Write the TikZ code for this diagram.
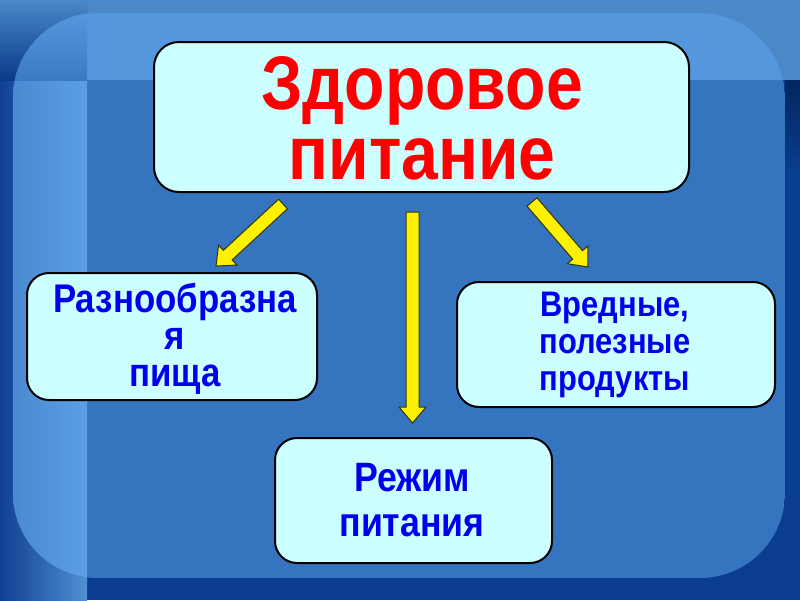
\documentclass[tikz,border=0pt]{standalone}
\usepackage{fontspec}
\setmainfont{Liberation Sans}[FakeStretch=0.87]
\usetikzlibrary{calc}
\definecolor{bgnavy}{HTML}{0B3D8E}
\definecolor{bgtop}{HTML}{4A88C8}
\definecolor{pcenter}{HTML}{3574BF}
\definecolor{ptop}{HTML}{5597DD}
\definecolor{boxfill}{HTML}{CCFFFF}
\definecolor{txtblue}{HTML}{0000EE}
\definecolor{arrowedge}{HTML}{33330A}
\definecolor{txtred}{HTML}{FF0000}
\tikzset{
  box/.style={draw=black, line width=2pt, fill=boxfill, rounded corners=22pt, inner sep=0pt},
  bigtxt/.style={text=txtred, font=\fontsize{76}{70}\selectfont\bfseries, align=center, inner sep=0pt},
  bluetxt/.style={text=txtblue, align=center, inner sep=0pt},
  yarrow/.style={fill=yellow, draw=arrowedge, line width=1pt, line join=miter},
}
\newcommand\blockarrow[2]{%
  \coordinate (#1h) at ($(#2)!16pt!(#1)$);
  \draw[yarrow] ($(#1)!6.5pt!90:(#2)$) -- ($(#1h)!6.5pt!90:(#2)$) -- ($(#1h)!13.5pt!90:(#2)$) -- (#2) -- ($(#1h)!13.5pt!-90:(#2)$) -- ($(#1h)!6.5pt!-90:(#2)$) -- ($(#1)!6.5pt!-90:(#2)$) -- cycle;}
\begin{document}
\begin{tikzpicture}[x=1pt,y=-1pt]
\useasboundingbox (0,0) rectangle (800,600);
% background
\fill[bgnavy] (0,0) rectangle (800,600);
\fill[bgtop] (87,0) rectangle (800,80);
\shade[left color={rgb,255:red,16;green,63;blue,146}, right color={rgb,255:red,80;green,144;blue,212}] (0,80) rectangle (87,600);
\shade[top color={rgb,255:red,74;green,136;blue,200}, bottom color={rgb,255:red,10;green,58;blue,138}] (0,0) rectangle (87,80);
\shade[top color={rgb,255:red,0;green,38;blue,95}, bottom color=bgnavy] (785,80) rectangle (800,170);
% panel
\begin{scope}
\clip[rounded corners=85pt] (13,13) rectangle (785,578);
\fill[pcenter] (13,13) rectangle (785,578);
\fill[ptop] (13,13) rectangle (785,80);
\shade[left color={rgb,255:red,74;green,138;blue,208}, right color={rgb,255:red,90;green,159;blue,230}] (13,80) rectangle (87,578);
\shade[top color=ptop, bottom color={rgb,255:red,58;green,122;blue,196}] (13,13) rectangle (87,80);
\end{scope}
% boxes
\node[box, rounded corners=25pt, minimum width=535pt, minimum height=150pt] (top) at (421.5,117) {};
\node[box, minimum width=290pt, minimum height=127pt] (left) at (172,336.5) {};
\node[box, minimum width=318pt, minimum height=125pt] (right) at (616,344.5) {};
\node[box, minimum width=277pt, minimum height=125pt] (bottom) at (413.5,500.5) {};
% texts
\node[bigtxt] (toptxt) at (422,118.5) {Здоровое\\питание};
\node[bluetxt, font=\fontsize{40}{37}\selectfont\bfseries] (lefttxt) at (175,339) {Разнообразна\\я\\пища};
\node[bluetxt, font=\fontsize{35.5}{37}\selectfont\bfseries] (righttxt) at (615,345) {Вредные,\\полезные\\продукты};
\node[bluetxt, font=\fontsize{41}{45}\selectfont\bfseries] (bottomtxt) at (412,500.5) {Режим\\питания};
% arrows
\coordinate (a1s) at (283,204);
\coordinate (a1e) at (216,266);
\coordinate (a2s) at (412.5,212);
\coordinate (a2e) at (412.5,423);
\coordinate (a3s) at (532,202);
\coordinate (a3e) at (588,267);
\blockarrow{a1s}{a1e}
\blockarrow{a2s}{a2e}
\blockarrow{a3s}{a3e}
\end{tikzpicture}
\end{document}
